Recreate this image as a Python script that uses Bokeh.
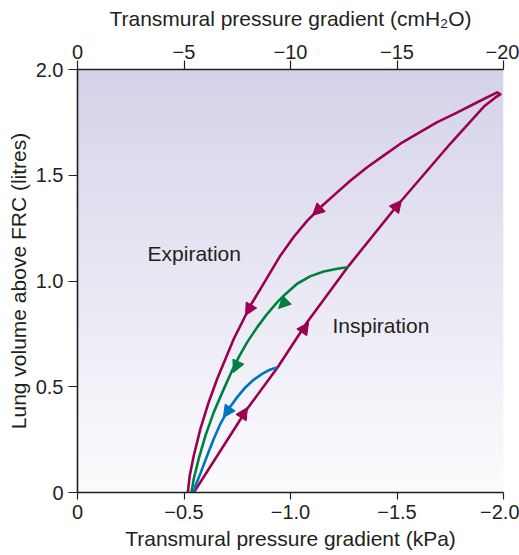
import numpy as np
from bokeh.plotting import figure
from bokeh.models import Range1d, LinearAxis, FixedTicker, Arrow, NormalHead
from bokeh.core.properties import value
from bokeh.embed import file_html
from bokeh.resources import INLINE

# ---- data (kPa, litres) ----
insp_x = [-0.546, -0.797, -0.940, -1.078, -1.274, -1.501, -1.751, -1.908, -1.968]
insp_y = [0.0, 0.396, 0.592, 0.805, 1.073, 1.357, 1.650, 1.825, 1.872]

exp_x = [-1.968, -1.985, -1.970, -1.877, -1.784, -1.689, -1.596, -1.516, -1.437, -1.360,
         -1.282, -1.211, -1.150, -1.078, -1.014, -0.953, -0.906, -0.859, -0.812, -0.773,
         -0.734, -0.695, -0.656, -0.616, -0.577, -0.546, -0.527, -0.518]
exp_y = [1.872, 1.882, 1.892, 1.845, 1.797, 1.751, 1.697, 1.649, 1.593, 1.538,
         1.475, 1.412, 1.357, 1.284, 1.207, 1.121, 1.042, 0.963, 0.884, 0.805,
         0.727, 0.632, 0.538, 0.427, 0.301, 0.175, 0.080, 0.0]

green_x = [-1.274, -1.219, -1.156, -1.094, -1.031, -0.977, -0.938, -0.891, -0.844, -0.797,
           -0.757, -0.726, -0.687, -0.640, -0.601, -0.569, -0.546, -0.535]
green_y = [1.066, 1.058, 1.045, 1.023, 0.987, 0.939, 0.900, 0.845, 0.782, 0.711,
           0.640, 0.577, 0.490, 0.380, 0.270, 0.159, 0.065, 0.0]

blue_x = [-0.940, -0.906, -0.867, -0.828, -0.789, -0.750, -0.710, -0.671, -0.640, -0.609,
          -0.579, -0.554, -0.546]
blue_y = [0.592, 0.582, 0.561, 0.534, 0.498, 0.451, 0.396, 0.325, 0.254, 0.175,
          0.095, 0.033, 0.0]

# arrows: (tail x, tail y, tip x, tip y)
insp_arrows = [(-0.546, 0.0, -0.798, 0.402), (-0.940, 0.592, -1.085, 0.804), (-1.274, 1.073, -1.521, 1.381)]
exp_arrows = [(-1.211, 1.412, -1.103, 1.31), (-0.859, 0.963, -0.789, 0.837)]
green_arrows = [(-1.094, 1.023, -0.944, 0.870), (-0.797, 0.711, -0.732, 0.567)]
blue_arrows = [(-0.750, 0.451, -0.685, 0.355)]

kpa_ticks = [0, -0.5, -1.0, -1.5, -2.0]
kpa_labels = ["0", "\u22120.5", "\u22121.0", "\u22121.5", "\u22122.0"]
cm_ticks = [0, -5, -10, -15, -20]
cm_labels = ["0", "\u22125", "\u221210", "\u221215", "\u221220"]
vol_ticks = [0, 0.5, 1.0, 1.5, 2.0]
vol_labels = ["0", "0.5", "1.0", "1.5", "2.0"]

MAG = "#9c0052"
GRN = "#00803e"
BLU = "#0074bf"
TXT = "#231f20"
FONT = "Liberation Sans"

p = figure(width=519, height=555, output_backend="svg", toolbar_location=None,
           x_range=Range1d(0, -2.0), y_range=Range1d(0, 2.0),
           min_border_left=77, min_border_right=16, min_border_top=69, min_border_bottom=63,
           x_axis_location=None, y_axis_location=None)
p.outline_line_color = None
p.grid.visible = False
p.background_fill_color = "white"
p.border_fill_color = "white"

# gradient background
n = 200
top = np.array([213, 211, 233], float)
bot = np.array([252, 252, 254], float)
t = np.linspace(0, 1, n)[:, None]
cols = (bot * (1 - t) + top * t).astype(np.uint32)
img = np.empty((n, 1), dtype=np.uint32)
view = img.view(dtype=np.uint8).reshape((n, 1, 4))
view[:, 0, 0] = cols[:, 0]
view[:, 0, 1] = cols[:, 1]
view[:, 0, 2] = cols[:, 2]
view[:, 0, 3] = 255
p.image_rgba(image=[img], x=-2.0, y=0, dw=2.0, dh=2.0)

def style_axis(ax, ticks, labels, title, tick_out, lab_stand, title_stand):
    ax.ticker = FixedTicker(ticks=ticks)
    ax.major_label_overrides = {tk: lb for tk, lb in zip(ticks, labels)}
    ax.axis_label = title
    ax.axis_label_text_font = FONT
    ax.axis_label_text_font_style = "normal"
    ax.axis_label_text_font_size = "21px"
    ax.axis_label_text_color = TXT
    ax.major_label_text_font = FONT
    ax.major_label_text_font_size = "20px"
    ax.major_label_text_color = TXT
    ax.axis_line_color = TXT
    ax.axis_line_width = 1.6
    ax.major_tick_line_color = TXT
    ax.major_tick_line_width = 1.2
    ax.major_tick_in = 0
    ax.major_tick_out = tick_out
    ax.minor_tick_line_color = None
    ax.major_label_standoff = lab_stand
    ax.axis_label_standoff = title_stand

bottom = LinearAxis()
style_axis(bottom, kpa_ticks, kpa_labels, "Transmural pressure gradient (kPa)", 7, 5, 5)
p.add_layout(bottom, "below")

p.extra_x_ranges = {"cm": Range1d(0, -20)}
topax = LinearAxis(x_range_name="cm")
style_axis(topax, cm_ticks, cm_labels, "Transmural pressure gradient (cmH\u2082O)", 9, 2, 12)
p.add_layout(topax, "above")

left = LinearAxis()
style_axis(left, vol_ticks, vol_labels, "Lung volume above FRC (litres)", 9, 5, 3)
p.add_layout(left, "left")

p.line(insp_x, insp_y, line_color=MAG, line_width=2.6, line_join="round", line_cap="round")
p.line(exp_x, exp_y, line_color=MAG, line_width=2.6, line_join="round", line_cap="round")
p.line(green_x, green_y, line_color=GRN, line_width=2.6, line_join="round")
p.line(blue_x, blue_y, line_color=BLU, line_width=2.6, line_join="round")

for arrows, c in [(insp_arrows, MAG), (exp_arrows, MAG), (green_arrows, GRN), (blue_arrows, BLU)]:
    for (x0, y0, x1, y1) in arrows:
        p.add_layout(Arrow(end=NormalHead(size=12, fill_color=c, line_color=c, line_width=1),
                           x_start=x0, y_start=y0, x_end=x1, y_end=y1, line_alpha=0))

p.text(x=[-0.329], y=[1.130], text=["Expiration"], text_font=value(FONT), text_font_size="21px",
       text_color=TXT, text_align="left", text_baseline="alphabetic")
p.text(x=[-1.197], y=[0.790], text=["Inspiration"], text_font=value(FONT), text_font_size="21px",
       text_color=TXT, text_align="left", text_baseline="alphabetic")

open("out.html", "w").write(file_html(p, INLINE))
